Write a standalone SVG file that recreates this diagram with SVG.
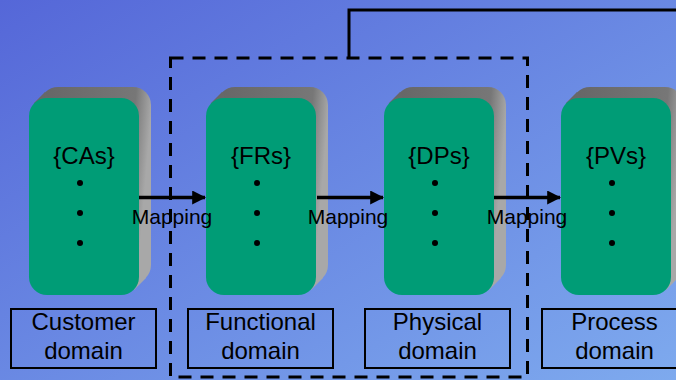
<svg xmlns="http://www.w3.org/2000/svg" width="676" height="380" viewBox="0 0 676 380">
<defs>
<linearGradient id="bg" x1="0" y1="0" x2="1" y2="1">
<stop offset="0" stop-color="#5567d8"/>
<stop offset="1" stop-color="#7eaaee"/>
</linearGradient>
<linearGradient id="gr" x1="0" y1="0" x2="1" y2="0.15">
<stop offset="0" stop-color="#666"/>
<stop offset="0.85" stop-color="#777"/>
<stop offset="1" stop-color="#a8a8a8"/>
</linearGradient>
<marker id="ah" viewBox="0 0 12 12" refX="11" refY="6" markerWidth="4" markerHeight="4" markerUnits="strokeWidth" orient="auto">
<path d="M0,0 L12,6 L0,12 Z" fill="#000"/>
</marker>
</defs>
<style>
.back{fill:url(#gr)}
.front{fill:#009c76}
.t{font-family:"Liberation Sans",Arial,sans-serif;fill:#000;text-anchor:middle}
.nt{font-size:24px}
.lt{font-size:24px}
.mt{font-size:21px}
.box{fill:none;stroke:#000;stroke-width:2}
.dot{fill:#000}
.arr{stroke:#000;stroke-width:3.5;fill:none;marker-end:url(#ah)}
</style>
<rect width="676" height="380" fill="url(#bg)"/>

<g id="node-cas">
<rect class="back" x="40" y="87" width="111" height="196" rx="18"/>
<polygon class="back" points="34,103 45,92 146,278 134,290"/>
<rect class="front" x="29" y="98" width="110" height="197" rx="18"/>
<text class="t nt" x="84" y="164">{CAs}</text>
<circle class="dot" cx="80" cy="183" r="3"/>
<circle class="dot" cx="80" cy="213" r="3"/>
<circle class="dot" cx="80" cy="243" r="3"/>
</g>
<g id="node-frs">
<rect class="back" x="217" y="87" width="111" height="196" rx="18"/>
<polygon class="back" points="211,103 222,92 323,278 311,290"/>
<rect class="front" x="206" y="98" width="110" height="197" rx="18"/>
<text class="t nt" x="261" y="164">{FRs}</text>
<circle class="dot" cx="257" cy="183" r="3"/>
<circle class="dot" cx="257" cy="213" r="3"/>
<circle class="dot" cx="257" cy="243" r="3"/>
</g>
<g id="node-dps">
<rect class="back" x="395" y="87" width="111" height="196" rx="18"/>
<polygon class="back" points="389,103 400,92 501,278 489,290"/>
<rect class="front" x="384" y="98" width="110" height="197" rx="18"/>
<text class="t nt" x="439" y="164">{DPs}</text>
<circle class="dot" cx="435" cy="183" r="3"/>
<circle class="dot" cx="435" cy="213" r="3"/>
<circle class="dot" cx="435" cy="243" r="3"/>
</g>
<g id="node-pvs">
<rect class="back" x="572" y="87" width="111" height="196" rx="18"/>
<polygon class="back" points="566,103 577,92 678,278 666,290"/>
<rect class="front" x="561" y="98" width="110" height="197" rx="18"/>
<text class="t nt" x="616" y="164">{PVs}</text>
<circle class="dot" cx="612" cy="183" r="3"/>
<circle class="dot" cx="612" cy="213" r="3"/>
<circle class="dot" cx="612" cy="243" r="3"/>
</g>

<g id="label-customer">
<rect class="box" x="11" y="309" width="145" height="59"/>
<text class="t lt" x="83.5" y="330">Customer</text>
<text class="t lt" x="83.5" y="359">domain</text>
</g>
<g id="label-functional">
<rect class="box" x="188" y="309" width="145" height="59"/>
<text class="t lt" x="260.5" y="330">Functional</text>
<text class="t lt" x="260.5" y="359">domain</text>
</g>
<g id="label-physical">
<rect class="box" x="365" y="309" width="145" height="59"/>
<text class="t lt" x="437.5" y="330">Physical</text>
<text class="t lt" x="437.5" y="359">domain</text>
</g>
<g id="label-process">
<rect class="box" x="542" y="309" width="145" height="59"/>
<text class="t lt" x="614.5" y="330">Process</text>
<text class="t lt" x="614.5" y="359">domain</text>
</g>

<g id="connectors">
<rect x="170.5" y="58" width="357" height="319" fill="none" stroke="#000" stroke-width="3" stroke-dasharray="13,9"/>
<polyline points="349,58 349,10 680,10" fill="none" stroke="#000" stroke-width="3"/>
<line class="arr" x1="139" y1="197.5" x2="205" y2="197.5"/>
<line class="arr" x1="317" y1="197.5" x2="383" y2="197.5"/>
<line class="arr" x1="494" y1="197.5" x2="560" y2="197.5"/>
<text class="t mt" x="172" y="224">Mapping</text>
<text class="t mt" x="348" y="224">Mapping</text>
<text class="t mt" x="527" y="224">Mapping</text>
</g>
</svg>
